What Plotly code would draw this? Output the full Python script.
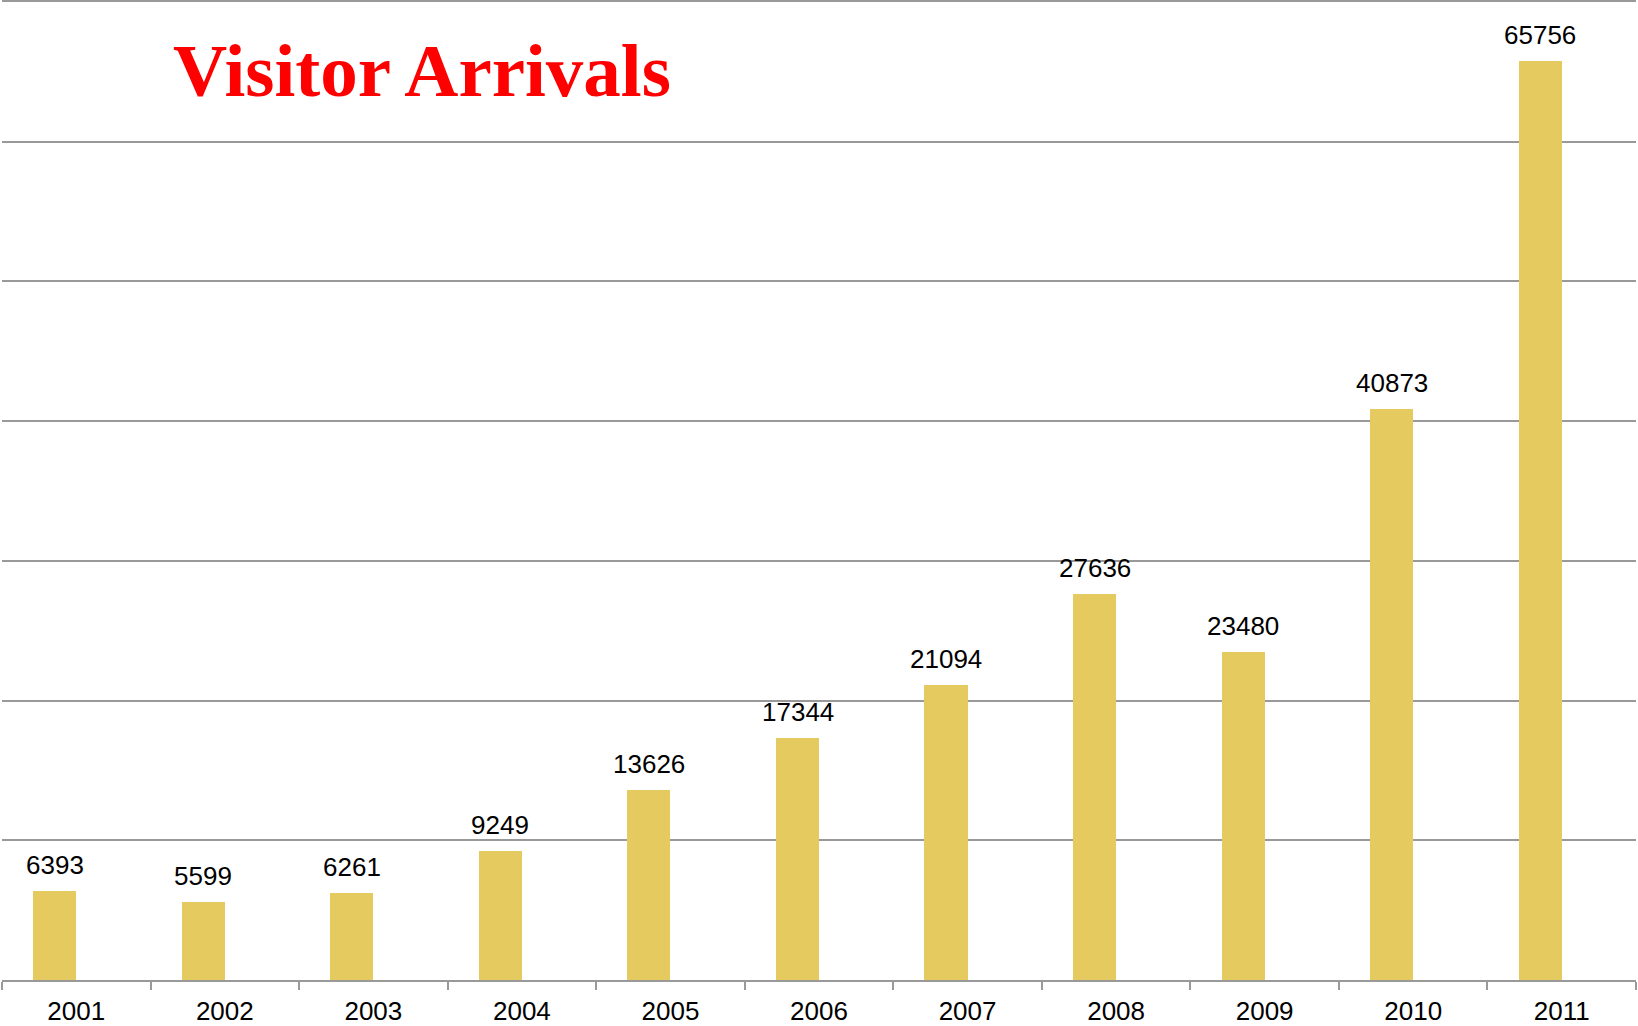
import plotly.graph_objects as go

years = ["2001", "2002", "2003", "2004", "2005", "2006", "2007", "2008", "2009", "2010", "2011"]
arrivals = [6393, 5599, 6261, 9249, 13626, 17344, 21094, 27636, 23480, 40873, 65756]

BAR_COLOR = "#E5CA60"
GRID = "#999999"

fig = go.Figure()
fig.add_trace(go.Bar(
    x=years, y=arrivals,
    marker=dict(color=BAR_COLOR, line=dict(width=0)),
    width=0.29, offset=-0.29,
    hoverinfo="x+y",
))

for i, v in enumerate(arrivals):
    fig.add_annotation(
        x=i, y=v, xref="x", yref="y",
        text=str(v), showarrow=False,
        xanchor="center", yanchor="bottom",
        xshift=-21.5, yshift=9,
        font=dict(family="Liberation Sans, Arial, sans-serif", size=26, color="#000000"),
    )

fig.add_annotation(
    text="<b>Visitor Arrivals</b>", xref="paper", yref="paper",
    x=(171 - 2) / 1634, y=1, xanchor="left", yanchor="top", yshift=-25,
    showarrow=False,
    font=dict(family="Liberation Serif, Times New Roman, serif", size=75, color="#FF0000"),
)

fig.update_layout(
    width=1638, height=1026,
    margin=dict(l=2, r=2, t=2, b=46, autoexpand=False),
    paper_bgcolor="white", plot_bgcolor="white",
    showlegend=False,
    bargap=0,
)
fig.update_xaxes(
    type="category", categoryorder="array", categoryarray=years,
    range=[-0.5, len(years) - 0.5], tickson="boundaries",
    ticks="outside", ticklen=8, tickcolor=GRID, tickwidth=2,
    showline=True, linecolor=GRID, linewidth=2, mirror=True,
    showgrid=False, tickangle=0, automargin=False,
    ticklabelstandoff=7,
    tickfont=dict(family="Liberation Sans, Arial, sans-serif", size=26, color="#000000"),
)
fig.update_yaxes(
    range=[0, 70000], dtick=10000,
    showgrid=True, gridcolor=GRID, gridwidth=2,
    showticklabels=False, zeroline=False, ticks="", automargin=False,
)

fig.write_html(
    "out.html",
    config={"displayModeBar": False},
    post_script="document.body.style.margin='0';document.body.style.overflow='hidden';",
)
